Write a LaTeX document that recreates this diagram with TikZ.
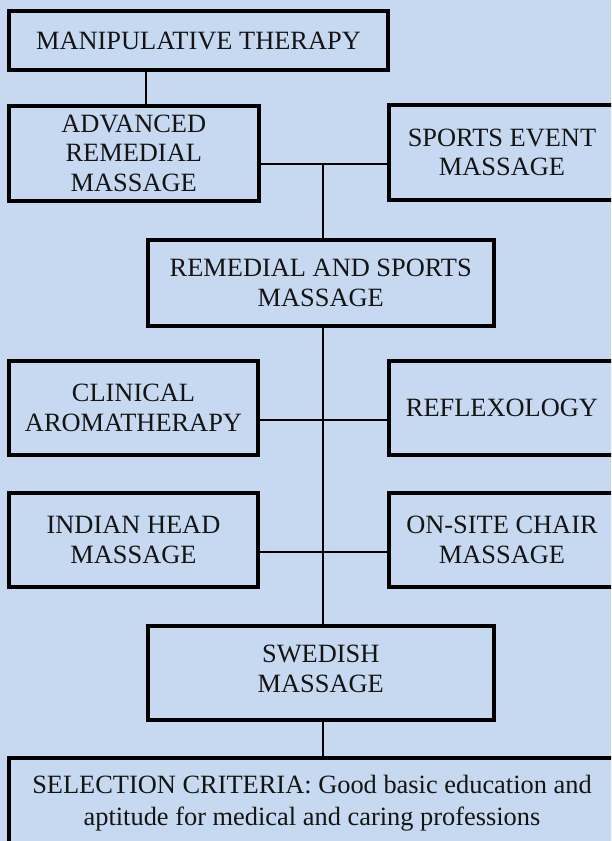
\documentclass[tikz,border=0pt]{standalone}
\usepackage{fontspec}
\setmainfont{Liberation Serif}
\definecolor{bgblue}{RGB}{198,217,240}
\definecolor{txt}{RGB}{20,20,20}
\begin{document}
\begin{tikzpicture}[x=1pt,y=-1pt,
  box/.style={draw=black,line width=4pt,fill=bgblue,rectangle,inner sep=0pt,
    align=center,text=txt,font=\fontsize{26.4}{29.5}\selectfont},
  conn/.style={draw=black,line width=2.5pt}]
\clip (0,0) rectangle (611,841);
\fill[bgblue] (0,0) rectangle (611,841);
% nodes
\node[box,minimum width=379pt,minimum height=59pt] (b1) at (198.5,40.5) {MANIPULATIVE THERAPY};
\node[box,minimum width=249.5pt,minimum height=95pt] (b2) at (133.75,153) {ADVANCED\\REMEDIAL\\MASSAGE};
\node[box,minimum width=226pt,minimum height=95pt] (b3) at (502,152.5) {SPORTS EVENT\\MASSAGE};
\node[box,minimum width=345.5pt,minimum height=86pt] (b4) at (320.75,283) {REMEDIAL AND SPORTS\\MASSAGE};
\node[box,minimum width=249pt,minimum height=94pt] (b5) at (133.5,408) {CLINICAL\\AROMATHERAPY};
\node[box,minimum width=226pt,minimum height=94pt] (b6) at (502,408) {REFLEXOLOGY};
\node[box,minimum width=249pt,minimum height=94pt] (b7) at (133.5,540) {INDIAN HEAD\\MASSAGE};
\node[box,minimum width=226pt,minimum height=94pt] (b8) at (502,540) {ON-SITE CHAIR\\MASSAGE};
\node[box,minimum width=345.5pt,minimum height=93.5pt,text depth=8pt] (b9) at (320.75,672.75) {SWEDISH\\MASSAGE};
\node[box,minimum width=606pt,minimum height=87pt,text depth=2pt,font=\fontsize{26.4}{32}\selectfont] (b10) at (312,801) {SELECTION CRITERIA: Good basic education and\\aptitude for medical and caring professions};
% junction points
\coordinate (j1) at (323,164);
\coordinate (j2) at (323,420);
\coordinate (j3) at (323,552);
% connectors
\draw[conn] (b1.south -| b4.west) -- (b2.north -| b4.west);
\draw[conn] (b2.east |- j1) -- (b3.west |- j1);
\draw[conn] (j1) -- (b4.north -| j1);
\draw[conn] (b4.south -| j1) -- (b9.north -| j1);
\draw[conn] (b5.east |- j2) -- (b6.west |- j2);
\draw[conn] (b7.east |- j3) -- (b8.west |- j3);
\draw[conn] (b9.south -| j1) -- (b10.north -| j1);
\end{tikzpicture}
\end{document}
